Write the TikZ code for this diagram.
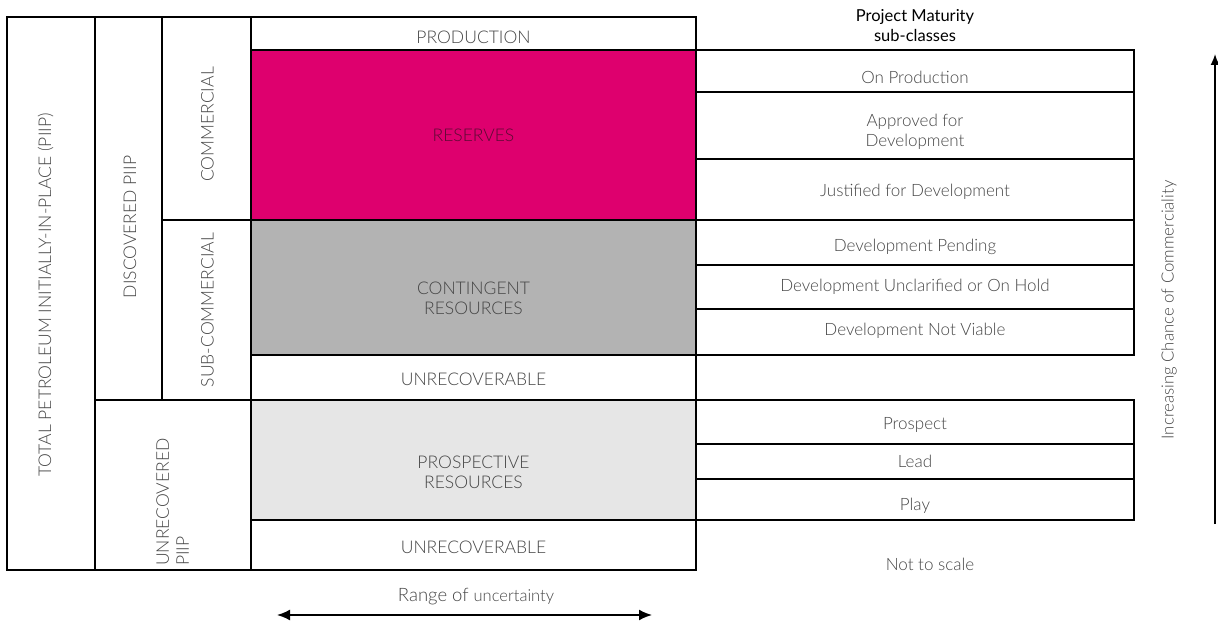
\documentclass[tikz,border=0pt]{standalone}
\usepackage{fontspec}
\setmainfont{Lato}
\newfontfamily\lightfont{Lato Light}
\usetikzlibrary{arrows.meta}
\definecolor{txt}{HTML}{454545}
\definecolor{magenta1}{HTML}{DE006E}
\definecolor{restxt}{HTML}{5C0A33}
\definecolor{contfill}{HTML}{B3B3B3}
\definecolor{prosfill}{HTML}{E6E6E6}
\tikzset{
  box/.style={draw=black, line width=2pt, inner sep=0pt},
  lbl/.style={inner sep=0pt, align=center, text=txt, font=\lightfont\fontsize{17.5}{20}\selectfont},
  rlbl/.style={lbl, font=\lightfont\fontsize{17}{20}\selectfont},
  tx/.style 2 args={label={[lbl,yshift={-(#2)*1pt}]center:{#1}}},
  rtx/.style 2 args={label={[rlbl,yshift={-(#2)*1pt}]center:{#1}}},
  arr/.style={line width=1.6pt, -{Latex[length=11pt,width=9pt]}},
}
\begin{document}
\begin{tikzpicture}[x=1pt,y=-1pt]
\useasboundingbox (0,0) rectangle (1218,623);
% left column
\node[box, minimum width=88, minimum height=553] (total) at (51,293.5) {};
\node[lbl, rotate=90] (total-t) at (45.5,295) {TOTAL PETROLEUM INITIALLY-IN-PLACE (PIIP)};
\node[box, minimum width=67, minimum height=383] (disc) at (128.5,208.5) {};
\node[lbl, rotate=90] (disc-t) at (130,227) {DISCOVERED PIIP};
\node[box, minimum width=89, minimum height=203] (comm) at (206.5,118.5) {};
\node[lbl, rotate=90] (comm-t) at (207.5,124.5) {COMMERCIAL};
\node[box, minimum width=89, minimum height=180] (subcomm) at (206.5,310) {};
\node[lbl, rotate=90] (subcomm-t) at (207.5,310) {SUB-COMMERCIAL};
\node[box, minimum width=156, minimum height=170] (unrecpiip) at (173,485) {};
\node[lbl, rotate=90, anchor=south west, align=left] (unrecpiip-t) at (189,566) {UNRECOVERED\\PIIP};
% middle column
\node[box, minimum width=445, minimum height=33, tx={PRODUCTION}{3.5}] (prod) at (473.5,33.5) {};
\node[box, fill=magenta1, minimum width=445, minimum height=170,
      label={[lbl,text=restxt]center:RESERVES}] (res) at (473.5,135) {};
\node[box, fill=contfill, minimum width=445, minimum height=135, tx={CONTINGENT\\RESOURCES}{10.5}] (cont) at (473.5,287.5) {};
\node[box, minimum width=445, minimum height=45, tx={UNRECOVERABLE}{1.5}] (unrec1) at (473.5,377.5) {};
\node[box, fill=prosfill, minimum width=445, minimum height=120, tx={PROSPECTIVE\\RESOURCES}{12.5}] (pros) at (473.5,460) {};
\node[box, minimum width=445, minimum height=50, tx={UNRECOVERABLE}{2}] (unrec2) at (473.5,545) {};
% right column
\node[font=\fontsize{16.5}{20}\selectfont, text=black, align=center, inner sep=0pt] (pm) at (915,26) {Project Maturity\\sub-classes};
\node[box, minimum width=438, minimum height=42, rtx={On Production}{6}] (onprod) at (915,71) {};
\node[box, minimum width=438, minimum height=67, rtx={Approved for\\Development}{6.5}] (appr) at (915,125.5) {};
\node[box, minimum width=438, minimum height=61, rtx={Justified for Development}{2.5}] (just) at (915,189.5) {};
\node[box, minimum width=438, minimum height=45, rtx={Development Pending}{4.5}] (pend) at (915,242.5) {};
\node[box, minimum width=438, minimum height=44, rtx={Development Unclarified or On Hold}{-0.5}] (uncl) at (915,287) {};
\node[box, minimum width=438, minimum height=46, rtx={Development Not Viable}{-1}] (nv) at (915,332) {};
\node[box, minimum width=438, minimum height=44, rtx={Prospect}{3}] (prospect) at (915,422) {};
\node[box, minimum width=438, minimum height=35, rtx={Lead}{-0.5}] (lead) at (915,461.5) {};
\node[box, minimum width=438, minimum height=41, rtx={Play}{6.5}] (play) at (915,499.5) {};
\node[rlbl] (nts) at (930,564) {Not to scale};
% right arrow
\node[lbl, rotate=90, font=\lightfont\fontsize{16.8}{20}\selectfont] (inc) at (1169,310) {Increasing Chance of Commerciality};
\coordinate (incbot) at (1215,524);
\coordinate (inctop) at (1215,54);
\draw[arr] (incbot) -- (inctop);
% range
\node[lbl, font=\lightfont\fontsize{18.5}{20}\selectfont] (range) at (476,597) {Range of {\fontsize{16.5}{20}\selectfont uncertainty}};
\coordinate (rl) at (277,615);
\coordinate (rr) at (652,615);
\draw[line width=1.8pt, {Latex[length=13pt,width=11pt]}-{Latex[length=13pt,width=11pt]}] (rl) -- (rr);
\end{tikzpicture}
\end{document}
